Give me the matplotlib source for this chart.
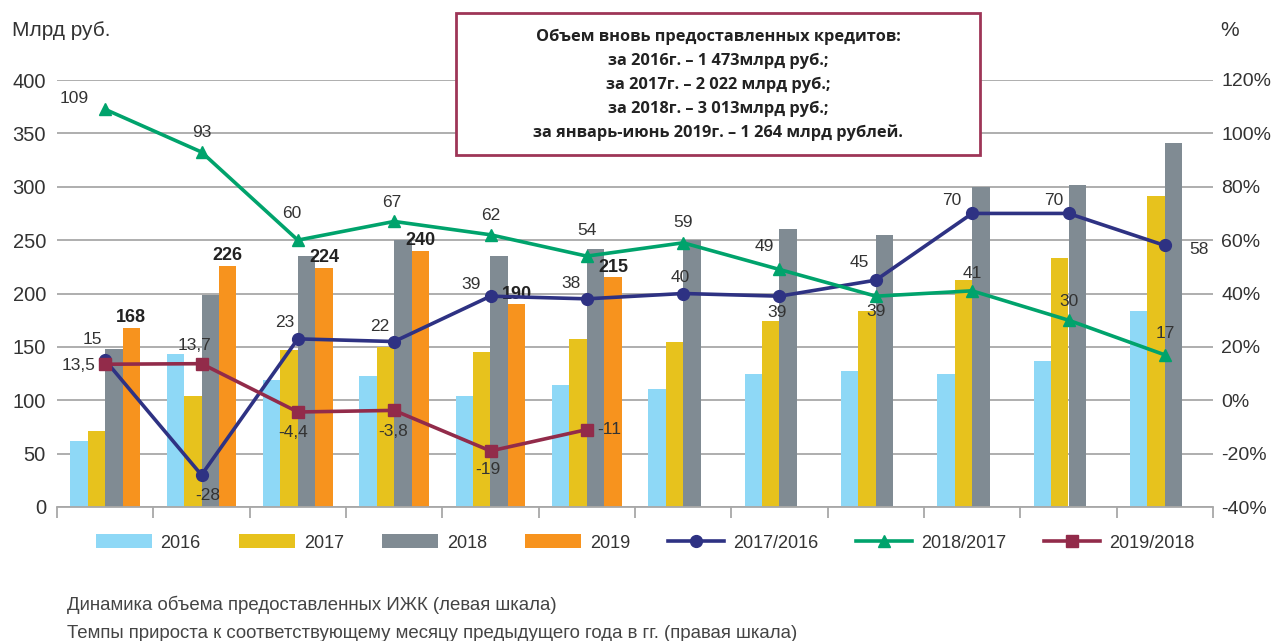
import numpy as np
import matplotlib
matplotlib.use("Agg")
import matplotlib.pyplot as plt
from matplotlib.patches import Rectangle, Patch
from matplotlib.lines import Line2D

plt.rcParams['font.family'] = ['Liberation Sans', 'DejaVu Sans']

# ---------------- data ----------------
months = list(range(1, 13))
v2016 = [62, 143, 119, 123, 104, 114, 111, 125, 127, 125, 137, 184]
v2017 = [71, 104, 147, 150, 145, 157, 155, 174, 184, 213, 233, 291]
v2018 = [148, 199, 235, 250, 235, 242, 250, 260, 255, 300, 302, 341]
v2019 = [168, 226, 224, 240, 190, 215]
g17_16 = [15, -28, 23, 22, 39, 38, 40, 39, 45, 70, 70, 58]
g18_17 = [109, 93, 60, 67, 62, 54, 59, 49, 39, 41, 30, 17]
g19_18 = [13.5, 13.7, -4.4, -3.8, -19, -11]
left_ticks = [0, 50, 100, 150, 200, 250, 300, 350, 400]
right_ticks = [-40, -20, 0, 20, 40, 60, 80, 100, 120]
bar_names = ['2016', '2017', '2018', '2019']
line_names = ['2017/2016', '2018/2017', '2019/2018']
box_lines = ["Объем вновь предоставленных кредитов:",
             "за 2016г. – 1 473млрд руб.;",
             "за 2017г. – 2 022 млрд руб.;",
             "за 2018г. – 3 013млрд руб.;",
             "за январь-июнь 2019г. – 1 264 млрд рублей."]
footer = ["Динамика объема предоставленных ИЖК (левая шкала)",
          "Темпы прироста к соответствующему месяцу предыдущего года в гг. (правая шкала)"]

# ---------------- style ----------------
bar_colors = ['#8ED8F6', '#E7C21D', '#808B93', '#F7931E']
line_colors = ['#2E3283', '#00A36C', '#922B4A']
markers = ['o', '^', 's']
txt = '#333333'
grid_c = '#A8A8A8'

# label offsets in pixels (dx, dy, ha)
off17 = [(-13, 21, 'center'), (6, -21, 'center'), (-13, 16, 'center'), (-14, 15, 'center'),
         (-19, 12, 'center'), (-16, 15, 'center'), (-3, 16, 'center'), (-2, -16, 'center'),
         (-17, 18, 'center'), (-20, 13, 'center'), (-15, 13, 'center'), (34, -4, 'center')]
off18 = [(-31, 11, 'center'), (0, 20, 'center'), (-6, 27, 'center'), (-2, 19, 'center'),
         (0, 19, 'center'), (0, 26, 'center'), (0, 20, 'center'), (-15, 23, 'center'),
         (0, -15, 'center'), (0, 17, 'center'), (0, 19, 'center'), (0, 21, 'center')]
off19 = [(-10, -1, 'right'), (-7, 18, 'center'), (-5, -21, 'center'), (-1, -21, 'center'),
         (-3, -19, 'center'), (10, 0, 'left')]

W, H = 1272, 641
fig = plt.figure(figsize=(W / 100, H / 100), dpi=100)
ax = fig.add_axes([57 / W, 1 - 507 / H, (1213 - 57) / W, (507 - 80) / H])
ax2 = ax.twinx()

x = np.arange(len(months))
bw = 0.181
series = [v2016, v2017, v2018, v2019]
for k, (vals, c) in enumerate(zip(series, bar_colors)):
    xs = x[:len(vals)] + (k - 1.5) * bw
    ax.bar(xs, vals, width=bw, color=c, zorder=2, linewidth=0)
    if k == 3:
        for xi, v in zip(xs, vals):
            ax.annotate(f"{v}", (xi, v), xytext=(0, 10), textcoords='offset pixels',
                        ha='center', va='center', fontsize=13, fontweight='bold',
                        color='#222222', zorder=6)

ax.set_ylim(0, 400)
ax.set_xlim(-0.5, len(months) - 0.5)
ax.set_yticks(left_ticks)
ax.yaxis.grid(True, color=grid_c, linewidth=1.3, zorder=0)
ax.set_axisbelow(True)
ax.tick_params(axis='y', length=0, pad=8, labelsize=14.5, labelcolor=txt)
ax.set_xticks(np.arange(len(months) + 1) - 0.5)
ax.set_xticklabels([])
ax.tick_params(axis='x', length=8, width=1.3, color=grid_c, direction='out')
for s in ['left', 'right', 'top']:
    ax.spines[s].set_visible(False)
    ax2.spines[s].set_visible(False)
ax.spines['bottom'].set_color(grid_c)
ax.spines['bottom'].set_linewidth(1.3)
ax2.spines['bottom'].set_visible(False)

ax2.set_ylim(-40, 120)
ax2.set_yticks(right_ticks)
ax2.set_yticklabels([f"{t}%" for t in right_ticks])
ax2.tick_params(axis='y', length=0, pad=6, labelsize=14, labelcolor=txt)

def fmt(v):
    return f"{v:g}".replace('.', ',')

for vals, c, m, offs in zip([g17_16, g18_17, g19_18], line_colors, markers, [off17, off18, off19]):
    xs = x[:len(vals)]
    ms = 9 if m == 's' else 8.5
    ax2.plot(xs, vals, color=c, lw=2.6, marker=m, ms=ms, zorder=4)
    for xi, v, (dx, dy, ha) in zip(xs, vals, offs):
        ax2.annotate(fmt(v), (xi, v), xytext=(dx, dy), textcoords='offset pixels',
                     ha=ha, va='center', fontsize=12.5, color=txt, zorder=6)

# legend
handles = [Patch(facecolor=c, edgecolor='none') for c in bar_colors]
handles += [Line2D([0], [0], color=c, lw=2.6, marker=m, ms=9 if m == 's' else 8.5)
            for c, m in zip(line_colors, markers)]
fig.legend(handles, bar_names + line_names, loc='center', bbox_to_anchor=(645 / W, 1 - 543 / H),
           ncol=7, frameon=False, fontsize=13, handlelength=3.1, handleheight=0.8,
           columnspacing=2.1, handletextpad=0.5, labelcolor=txt)

# axis titles
fig.text(12 / W, 1 - 30 / H, "Млрд руб.", fontsize=15, color=txt, va='center', ha='left')
fig.text(1220 / W, 1 - 30 / H, "%", fontsize=15, color=txt, va='center', ha='left')

# info box
fig.patches.append(Rectangle((456 / W, 1 - 155 / H), (980 - 456) / W, (155 - 13) / H,
                             transform=fig.transFigure, facecolor='white',
                             edgecolor='#9E3557', linewidth=2, zorder=10))
for i, line in enumerate(box_lines):
    fig.text(718 / W, 1 - (37 + 24 * i) / H, line, fontsize=11.8, fontweight='bold',
             color='#222222', ha='center', va='center', zorder=11,
             family=['Open Sans', 'DejaVu Sans'])

for i, line in enumerate(footer):
    fig.text(67 / W, 1 - (605 + 28 * i) / H, line, fontsize=13.4, color='#444444',
             ha='left', va='center')

fig.savefig('out.png', dpi=100)
